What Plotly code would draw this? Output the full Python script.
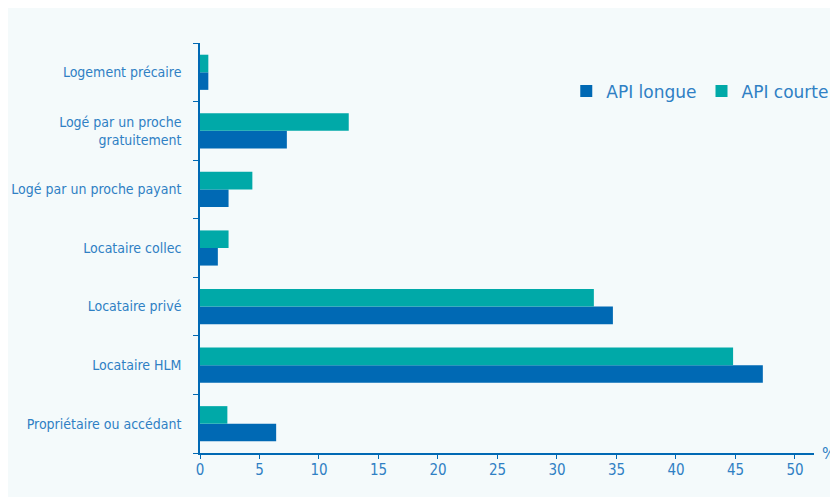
import plotly.graph_objects as go

categories = [
    "Propriétaire ou accédant",
    "Locataire HLM",
    "Locataire privé",
    "Locataire collec",
    "Logé par un proche payant",
    "Logé par un proche<br>gratuitement",
    "Logement précaire",
]
api_longue = [6.4, 47.3, 34.7, 1.5, 2.4, 7.3, 0.7]
api_courte = [2.3, 44.8, 33.1, 2.4, 4.4, 12.5, 0.7]
x_ticks = [0, 5, 10, 15, 20, 25, 30, 35, 40, 45, 50]

BG = "#F4FAFB"
BLUE = "#0069B4"
TEAL = "#00A9A8"
TXT = "#2F80C4"
FONT = "Liberation Sans Narrow, DejaVu Sans Condensed, sans-serif"

fig = go.Figure()
fig.add_trace(go.Bar(y=categories, x=api_longue, orientation="h", name="API longue",
                     marker=dict(color=BLUE, line=dict(width=0))))
fig.add_trace(go.Bar(y=categories, x=api_courte, orientation="h", name="API courte",
                     marker=dict(color=TEAL, line=dict(width=0))))

fig.update_layout(
    width=838, height=497,
    paper_bgcolor=BG, plot_bgcolor=BG,
    margin=dict(l=192, r=32, t=35, b=52, autoexpand=False),
    barmode="group", bargap=0.4, bargroupgap=0,
    font=dict(family=FONT, color=TXT, size=15),
    showlegend=True,
    legend=dict(orientation="h", x=1.033, xanchor="right", y=0.882, yanchor="middle",
                font=dict(family="DejaVu Sans, sans-serif", size=17, color=TXT),
                bgcolor="rgba(0,0,0,0)", itemwidth=30, traceorder="normal"),
    xaxis=dict(range=[0, 51.6], tickvals=x_ticks, ticks="outside", ticklen=4,
               tickcolor=BLUE, showline=True, linecolor=BLUE, linewidth=1.5,
               showgrid=False, zeroline=False, ticklabelstandoff=-2, automargin=False,
               tickfont=dict(size=15, color=TXT)),
    yaxis=dict(tickson="boundaries", ticks="outside", ticklen=5, tickcolor=BLUE,
               showline=True, linecolor=BLUE, linewidth=1.5, showgrid=False,
               ticklabelstandoff=14, automargin=False,
               tickfont=dict(size=14, color=TXT)),
    annotations=[dict(text="%", x=1.0, xref="paper", xanchor="left", xshift=6,
                      y=0, yref="paper", yanchor="middle", showarrow=False,
                      font=dict(size=16, color=TXT))],
)

fig.write_html("out.html")
